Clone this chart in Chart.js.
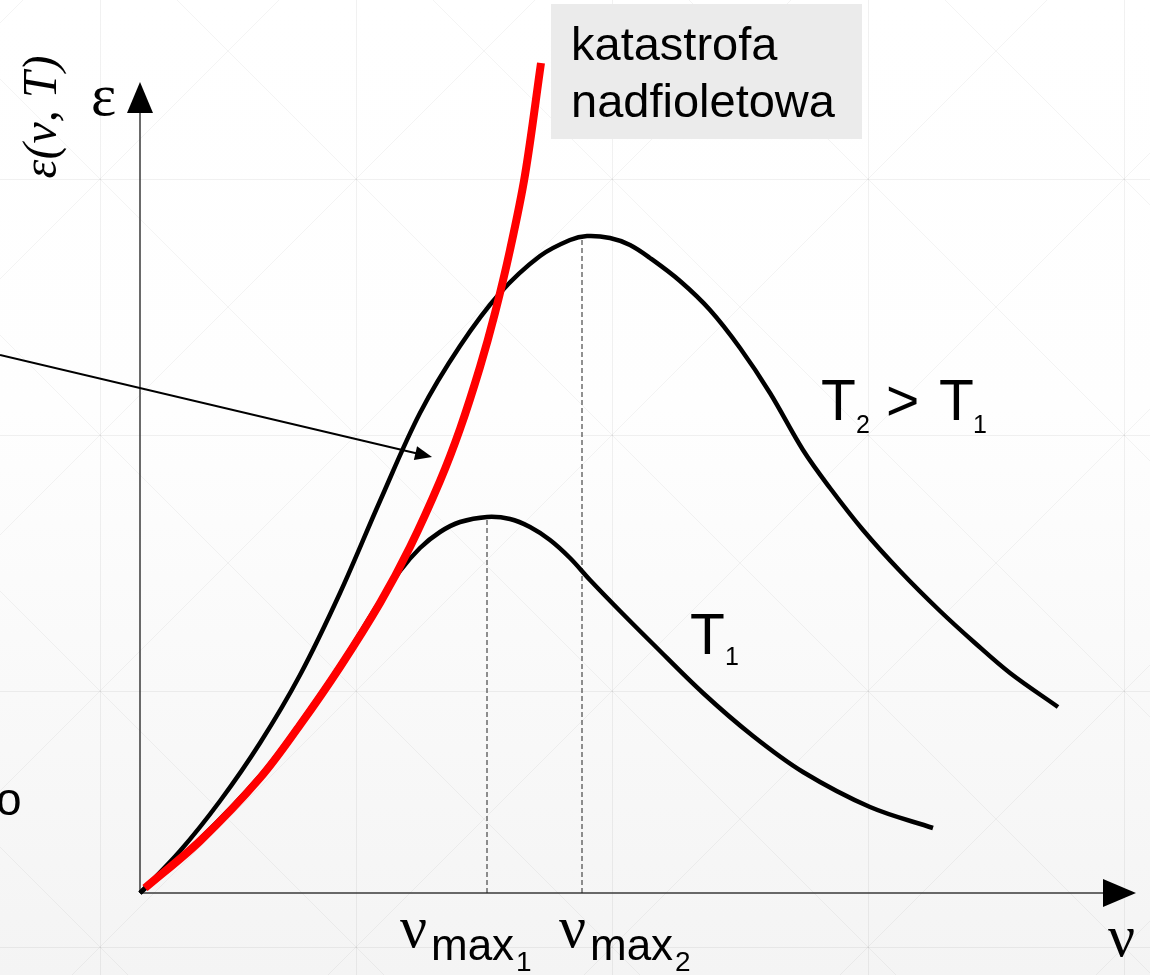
<!DOCTYPE html>
<html>
<head>
<meta charset="utf-8">
<script src="https://cdn.jsdelivr.net/npm/chart.js@4/dist/chart.umd.min.js"></script>
<style>
  html, body { margin: 0; padding: 0; background: #fff; }
  #wrap { width: 1150px; height: 975px; }
</style>
</head>
<body>
<div id="wrap"><canvas id="planck" width="1150" height="975"></canvas></div>
<script>
// Rayleigh-Jeans curve (red, "katastrofa nadfioletowa")
const rjX = [0.05, 0.60, 1.20, 1.60, 2.00, 2.40, 2.70, 3.00, 3.20, 3.40, 3.55, 3.70, 3.85, 4.01];
const rjY = [0.05, 0.52, 1.15, 1.68, 2.26, 2.90, 3.46, 4.12, 4.64, 5.26, 5.80, 6.43, 7.18, 8.30];

// Planck curve for T1
const t1X = [0, 0.60, 1.20, 1.60, 2.00, 2.40, 2.60, 2.80, 3.00, 3.20, 3.47, 3.70, 3.90, 4.10, 4.30, 4.50, 4.80, 5.13, 5.63, 6.13, 6.63, 7.30, 7.93];
const t1Y = [0, 0.54, 1.17, 1.70, 2.28, 2.92, 3.22, 3.45, 3.61, 3.71, 3.76, 3.74, 3.66, 3.53, 3.35, 3.13, 2.82, 2.49, 2.00, 1.57, 1.21, 0.86, 0.65];

// Planck curve for T2 > T1
const t2X = [0, 0.40, 0.80, 1.20, 1.60, 2.00, 2.40, 2.80, 3.20, 3.60, 4.00, 4.30, 4.47, 4.70, 4.90, 5.10, 5.40, 5.70, 6.00, 6.30, 6.63, 6.90, 7.23, 7.60, 8.00, 8.35, 8.70, 9.18];
const t2Y = [0, 0.42, 0.92, 1.50, 2.18, 3.00, 3.92, 4.80, 5.47, 6.00, 6.37, 6.53, 6.57, 6.55, 6.48, 6.35, 6.12, 5.83, 5.45, 5.00, 4.43, 4.05, 3.63, 3.22, 2.82, 2.50, 2.20, 1.86];

// maxima (dashed drop lines)
const peakX = [3.47, 4.42];
const peakY = [3.75, 6.55];
const peakSub = ['1', '2'];

// arrow pointing at the gap between curves (start, end)
const arrowX = [-1.40, 2.92];
const arrowY = [5.38, 4.36];

function pts(xs, ys) {
  return xs.map((x, i) => ({ x: x, y: ys[i] }));
}

const curveDefaults = {
  showLine: true,
  pointRadius: 0,
  fill: false,
  clip: false,
  tension: 0.35,
  borderCapStyle: 'butt'
};

const datasets = [
  Object.assign({ label: 'RJ', data: pts(rjX, rjY), borderColor: '#ff0000', borderWidth: 8 }, curveDefaults),
  Object.assign({ label: 'T2', data: pts(t2X, t2Y), borderColor: '#000', borderWidth: 4.5 }, curveDefaults),
  Object.assign({ label: 'T1', data: pts(t1X, t1Y), borderColor: '#000', borderWidth: 4.5 }, curveDefaults)
];
peakX.forEach((px, i) => {
  datasets.push({
    label: 'max' + peakSub[i],
    data: [{ x: px, y: 0 }, { x: px, y: peakY[i] }],
    showLine: true,
    pointRadius: 0,
    borderColor: '#222',
    borderWidth: 1,
    borderDash: [5, 3],
    clip: false
  });
});

// faint background pattern + gradient
const backdrop = {
  id: 'backdrop',
  beforeDraw(chart) {
    const ctx = chart.ctx;
    const W = chart.width, H = chart.height;
    ctx.save();
    const g = ctx.createLinearGradient(0, 0, 0, H);
    g.addColorStop(0, '#ffffff');
    g.addColorStop(0.42, '#fefefe');
    g.addColorStop(1, '#f4f4f4');
    ctx.fillStyle = g;
    ctx.fillRect(0, 0, W, H);
    ctx.strokeStyle = 'rgba(0,0,0,0.055)';
    ctx.lineWidth = 1;
    ctx.beginPath();
    for (let x = 100; x < W; x += 256) { ctx.moveTo(x + 0.5, 0); ctx.lineTo(x + 0.5, H); }
    for (let y = 179 - 256; y < H; y += 256) { ctx.moveTo(0, y + 0.5); ctx.lineTo(W, y + 0.5); }
    ctx.stroke();
    ctx.strokeStyle = 'rgba(0,0,0,0.045)';
    ctx.beginPath();
    for (let c = -79 - 256 * 5; c < W + 256; c += 256) { ctx.moveTo(c, 0); ctx.lineTo(c + H, H); }
    for (let c = 279 - 256 * 2; c < W + H + 256; c += 256) { ctx.moveTo(c, 0); ctx.lineTo(c - H, H); }
    ctx.stroke();
    ctx.restore();
  }
};

function arrowHead(ctx, x0, y0, x1, y1, len, half) {
  const a = Math.atan2(y1 - y0, x1 - x0);
  ctx.beginPath();
  ctx.moveTo(x1, y1);
  ctx.lineTo(x1 - len * Math.cos(a) + half * Math.sin(a), y1 - len * Math.sin(a) - half * Math.cos(a));
  ctx.lineTo(x1 - len * Math.cos(a) - half * Math.sin(a), y1 - len * Math.sin(a) + half * Math.cos(a));
  ctx.closePath();
  ctx.fill();
}

const axesPlugin = {
  id: 'axesPlugin',
  beforeDatasetsDraw(chart) {
    const ctx = chart.ctx;
    const xs = chart.scales.x, ys = chart.scales.y;
    const ox = xs.getPixelForValue(0), oy = ys.getPixelForValue(0);
    ctx.save();
    ctx.strokeStyle = '#3a3a3a';
    ctx.fillStyle = '#000';
    ctx.lineWidth = 1.5;
    ctx.beginPath();
    ctx.moveTo(ox, oy); ctx.lineTo(ox, 112);
    ctx.moveTo(ox, oy); ctx.lineTo(1110, oy);
    ctx.stroke();
    arrowHead(ctx, ox, oy, ox, 82, 31, 13);
    arrowHead(ctx, ox, oy, 1136, oy, 33, 14);
    ctx.restore();
  },
  afterDatasetsDraw(chart) {
    const ctx = chart.ctx;
    const xs = chart.scales.x, ys = chart.scales.y;
    ctx.save();
    // arrow
    const ax0 = xs.getPixelForValue(arrowX[0]), ay0 = ys.getPixelForValue(arrowY[0]);
    const ax1 = xs.getPixelForValue(arrowX[1]), ay1 = ys.getPixelForValue(arrowY[1]);
    const ang = Math.atan2(ay1 - ay0, ax1 - ax0);
    ctx.strokeStyle = '#000';
    ctx.fillStyle = '#000';
    ctx.lineWidth = 2;
    ctx.beginPath();
    ctx.moveTo(ax0, ay0);
    ctx.lineTo(ax1 - 12 * Math.cos(ang), ay1 - 12 * Math.sin(ang));
    ctx.stroke();
    arrowHead(ctx, ax0, ay0, ax1, ay1, 17, 7);

    // label box
    ctx.fillStyle = '#ebebeb';
    ctx.fillRect(551, 4, 311, 135);
    ctx.fillStyle = '#000';
    ctx.textBaseline = 'alphabetic';
    ctx.textAlign = 'left';
    const sans = '"Liberation Sans", Arial, sans-serif';
    const serif = '"Liberation Serif", "Times New Roman", serif';
    ctx.font = '47px ' + sans;
    ctx.fillText('katastrofa', 571, 60);
    ctx.fillText('nadfioletowa', 571, 117);

    // T2 > T1
    ctx.font = '57px ' + sans;
    ctx.fillText('T', 821, 420);
    ctx.fillText('>', 886, 420);
    ctx.fillText('T', 939, 420);
    ctx.fillText('T', 690, 654);
    ctx.font = '25px ' + sans;
    ctx.fillText('2', 856, 433);
    ctx.fillText('1', 973, 433);
    ctx.fillText('1', 725, 665);

    // nu_max labels
    const nuLeft = [402, 561];
    peakSub.forEach((s, i) => {
      ctx.font = '60px ' + serif;
      ctx.fillText('\u03bd', nuLeft[i] - 2, 947);
      ctx.font = '44px ' + sans;
      ctx.fillText('max', nuLeft[i] + 29, 960);
      const w = ctx.measureText('max').width;
      ctx.font = '28px ' + sans;
      ctx.fillText(s, nuLeft[i] + 31 + w, 971);
    });

    // axis letters
    ctx.font = '60px ' + serif;
    ctx.fillText('\u03bd', 1108, 956);
    ctx.fillText('\u03b5', 91, 115);

    // rotated axis title
    ctx.save();
    ctx.translate(56, 117);
    ctx.rotate(-Math.PI / 2);
    ctx.textAlign = 'center';
    ctx.font = 'italic 48px ' + serif;
    ctx.fillText('\u03b5(\u03bd, T)', 0, 0);
    ctx.restore();

    // clipped text at left edge
    ctx.font = '46px ' + sans;
    ctx.fillText('o', -4, 815);
    ctx.restore();
  }
};

new Chart(document.getElementById('planck'), {
  type: 'scatter',
  data: { datasets: datasets },
  options: {
    responsive: false,
    animation: false,
    events: [],
    layout: { padding: { left: 140, right: 10, top: 43, bottom: 82 } },
    scales: {
      x: { type: 'linear', min: 0, max: 10, display: false },
      y: { type: 'linear', min: 0, max: 8.5, display: false }
    },
    plugins: {
      legend: { display: false },
      tooltip: { enabled: false }
    }
  },
  plugins: [backdrop, axesPlugin]
});
</script>
</body>
</html>
